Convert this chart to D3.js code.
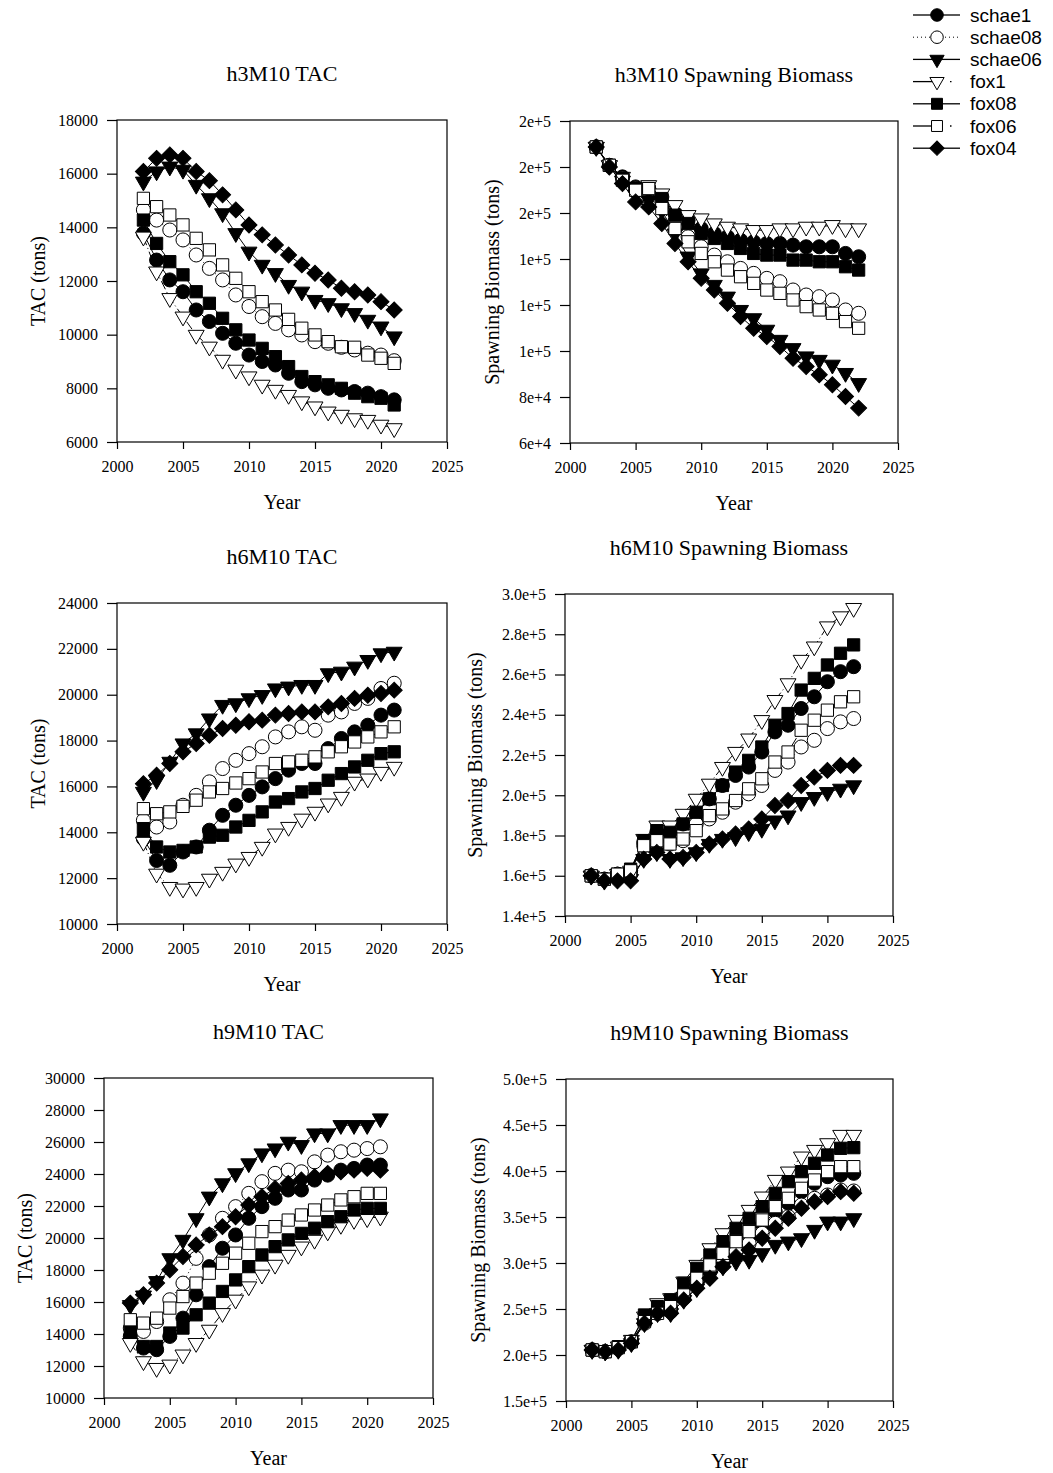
<!DOCTYPE html>
<html>
<head>
<meta charset="utf-8">
<script src="https://cdn.jsdelivr.net/npm/d3@7"></script>
<style>
  body { margin: 0; background: #fff; }
  svg text { font-family: "Liberation Serif", "Times New Roman", serif; fill: #000; }
</style>
</head>
<body>
<script>
// series, in legend order
const seriesNames = ['schae1', 'schae08', 'schae06', 'fox1', 'fox08', 'fox06', 'fox04']

const tacYears = [2002, 2003, 2004, 2005, 2006, 2007, 2008, 2009, 2010, 2011, 2012, 2013, 2014, 2015, 2016, 2017, 2018, 2019, 2020, 2021]
const sbYears = [2002, 2003, 2004, 2005, 2006, 2007, 2008, 2009, 2010, 2011, 2012, 2013, 2014, 2015, 2016, 2017, 2018, 2019, 2020, 2021, 2022]
const xTicks = [2000, 2005, 2010, 2015, 2020, 2025]

// h3M10 TAC (tons), rows follow seriesNames
const h3Tac = [
  [13780, 12780, 12040, 11600, 10920, 10490, 10050, 9680, 9240, 9000, 8870, 8560, 8250, 8130, 8000, 7940, 7880, 7820, 7690, 7570],
  [14650, 14270, 13900, 13530, 12970, 12470, 12040, 11480, 11050, 10670, 10420, 10180, 9990, 9740, 9680, 9530, 9430, 9310, 9240, 9030],
  [15700, 16080, 16260, 16140, 15580, 15080, 14520, 13780, 13090, 12600, 12290, 11850, 11600, 11290, 11170, 10980, 10800, 10550, 10300, 9930],
  [13650, 12350, 11360, 10670, 9990, 9550, 9060, 8690, 8440, 8130, 7940, 7750, 7510, 7320, 7130, 7010, 6880, 6820, 6640, 6510],
  [14270, 13400, 12720, 12230, 11600, 11170, 10610, 10180, 9800, 9490, 9180, 8810, 8440, 8250, 8130, 8000, 7820, 7690, 7630, 7380],
  [15080, 14770, 14460, 14090, 13590, 13160, 12600, 12100, 11600, 11230, 10920, 10570, 10240, 9990, 9740, 9550, 9530, 9240, 9120, 8930],
  [16080, 16570, 16700, 16570, 16080, 15740, 15210, 14650, 14090, 13720, 13340, 12970, 12600, 12290, 12040, 11730, 11600, 11480, 11230, 10920]
]

// h3M10 spawning biomass (tons)
const h3Sb = [
  [188700, 180700, 175700, 171340, 170620, 167000, 159770, 156880, 153270, 151100, 149650, 148200, 147480, 146760, 146760, 146040, 145310, 145310, 145310, 142420, 140970],
  [188700, 180740, 174960, 170620, 170620, 164830, 156160, 149650, 145310, 141700, 138800, 135910, 133750, 131580, 130130, 126520, 124350, 123620, 122180, 117840, 116390],
  [188700, 180700, 174000, 168000, 165500, 161000, 151000, 141000, 133700, 128700, 123600, 117800, 114200, 109200, 104800, 101200, 97600, 96100, 94000, 90400, 86000],
  [188700, 180740, 175680, 171340, 172060, 168450, 163390, 159050, 157600, 155430, 153990, 153270, 152540, 152540, 153270, 153270, 153990, 153990, 154710, 153270, 153270],
  [188700, 180740, 174960, 170620, 170620, 166280, 159050, 155430, 151100, 148930, 146760, 144590, 142420, 141700, 141700, 139530, 139530, 138800, 138800, 136640, 135190],
  [188700, 180740, 174230, 169890, 170620, 161940, 153270, 147480, 142420, 138800, 135190, 132300, 129410, 126510, 125070, 122180, 119290, 117840, 116390, 112780, 109890],
  [188700, 180020, 172790, 164830, 162660, 155430, 146760, 138810, 131580, 126510, 120730, 114950, 109890, 106270, 101930, 96870, 93260, 89640, 85300, 80240, 75180]
]

// h6M10 TAC (tons)
const h6Tac = [
  [13720, 12770, 12560, 13140, 13360, 14090, 14740, 15180, 15610, 15980, 16340, 16710, 17000, 17000, 17650, 18090, 18380, 18670, 19110, 19330],
  [14520, 14230, 14450, 15180, 15610, 16200, 16780, 17140, 17430, 17730, 18160, 18380, 18600, 18450, 19110, 19250, 19620, 19840, 20270, 20500],
  [15760, 16270, 17070, 17870, 18310, 18960, 19550, 19620, 19840, 19980, 20270, 20350, 20420, 20420, 20930, 21000, 21220, 21510, 21800, 21870],
  [13580, 12190, 11610, 11540, 11610, 11970, 12270, 12630, 12920, 13360, 13940, 14230, 14590, 14890, 15250, 15540, 16200, 16340, 16630, 16850],
  [14160, 13360, 13140, 13210, 13360, 13790, 13870, 14230, 14520, 14890, 15320, 15470, 15760, 15910, 16270, 16560, 16850, 17140, 17430, 17510],
  [15030, 14810, 14890, 15130, 15400, 15760, 15910, 16150, 16340, 16630, 17000, 17070, 17140, 17290, 17510, 17730, 17940, 18160, 18380, 18600],
  [16120, 16490, 17000, 17510, 17870, 18230, 18530, 18670, 18820, 18890, 19110, 19180, 19250, 19250, 19470, 19620, 19840, 19980, 20050, 20200]
]

// h6M10 spawning biomass (tons)
const h6Sb = [
  [159960, 158300, 160790, 162450, 176590, 181580, 181580, 185740, 190730, 198210, 204860, 209850, 214010, 221490, 231470, 234790, 243110, 248930, 256410, 261400, 263890],
  [159960, 158300, 160790, 162450, 174920, 176590, 175760, 177420, 185740, 188230, 191560, 196550, 200700, 204860, 212350, 216500, 223990, 227310, 233130, 236460, 238120],
  [159960, 157460, 158300, 158300, 168270, 171600, 168270, 169110, 171600, 175760, 178250, 179090, 181580, 183240, 187400, 189890, 196550, 199060, 201530, 203190, 204860],
  [159960, 158300, 160790, 162450, 178250, 184900, 184900, 190720, 198210, 205690, 214010, 221490, 228140, 237290, 247270, 255580, 267220, 273870, 283850, 288840, 293000],
  [159960, 158300, 160790, 163280, 177420, 182410, 181580, 185740, 191560, 198210, 204860, 211510, 217330, 223980, 234790, 240610, 252260, 258080, 264730, 270550, 274710],
  [159960, 158300, 160790, 162450, 174920, 177420, 175760, 178250, 182410, 189890, 193220, 197380, 203200, 208190, 216500, 221490, 232300, 237290, 242280, 246430, 248930],
  [159960, 157460, 157460, 157460, 168270, 171600, 168270, 169110, 171600, 175760, 178250, 180750, 183240, 188230, 194880, 197380, 204860, 209020, 212340, 214840, 214840]
]

// h9M10 TAC (tons)
const h9Tac = [
  [13850, 13120, 13020, 13850, 14990, 16450, 18210, 19360, 20190, 21230, 21960, 22480, 23000, 23000, 23620, 23930, 24240, 24350, 24560, 24560],
  [14370, 14160, 14780, 16140, 17180, 18730, 20190, 21230, 21960, 22790, 23520, 24040, 24240, 24140, 24760, 25180, 25390, 25490, 25590, 25700],
  [15800, 16400, 17300, 18730, 19880, 21230, 22580, 23410, 24040, 24660, 25280, 25590, 26010, 25800, 26530, 26530, 27050, 27050, 27050, 27470],
  [13430, 12290, 11870, 12080, 12710, 13430, 14260, 15300, 16140, 16970, 17700, 18320, 18940, 19460, 19880, 20400, 20810, 21120, 21230, 21330],
  [14160, 13220, 13220, 14060, 14370, 15200, 15930, 16660, 17380, 18210, 18940, 19460, 19880, 20290, 20610, 21020, 21330, 21750, 21850, 21850],
  [14890, 14680, 14990, 15620, 16340, 17180, 17800, 18420, 19050, 19670, 20400, 20710, 21120, 21440, 21750, 22060, 22380, 22580, 22790, 22790],
  [15930, 16450, 17180, 18010, 18840, 19570, 20190, 20710, 21330, 22060, 22580, 23100, 23410, 23620, 23830, 24040, 24140, 24240, 24350, 24240]
]

// h9M10 spawning biomass (tons)
const h9Sb = [
  [205450, 203640, 207990, 214510, 236250, 245300, 250740, 263420, 281530, 296020, 306890, 319570, 328630, 341310, 355800, 364860, 377540, 386600, 393840, 395660, 397470],
  [205450, 203640, 207260, 213780, 234430, 245300, 247120, 261610, 279720, 292410, 301470, 312330, 321390, 332260, 343130, 350370, 363050, 370300, 373920, 379360, 378270],
  [205450, 203640, 205450, 212700, 234430, 245300, 245300, 259800, 272480, 285160, 296030, 301460, 303260, 310510, 319570, 323190, 326810, 335870, 344930, 344930, 348550],
  [205450, 203640, 209070, 216320, 241680, 256170, 261610, 279720, 297840, 315950, 332260, 346750, 357620, 372110, 390230, 399280, 415590, 422830, 430080, 439140, 439140],
  [205450, 203640, 209070, 214510, 243490, 252550, 259800, 277910, 294220, 308710, 323200, 337700, 348570, 361250, 375740, 388420, 399290, 408350, 417400, 424650, 425370],
  [205450, 203640, 207990, 214510, 236250, 245300, 252550, 265230, 283350, 297840, 310520, 323200, 334070, 346750, 361240, 370300, 381170, 390230, 399280, 404720, 404720],
  [205450, 203640, 205450, 212700, 234430, 245300, 245300, 259800, 272480, 283350, 296030, 306900, 314140, 326820, 337690, 348560, 359430, 366680, 372110, 377540, 375730]
]

// marker and line look per series
const shapes = [
  { type: d3.symbolCircle, fill: '#000', rot: 0, size: 155, dash: null },
  { type: d3.symbolCircle, fill: '#fff', rot: 0, size: 155, dash: '1,3' },
  { type: d3.symbolTriangle, fill: '#000', rot: 180, size: 110, dash: null },
  { type: d3.symbolTriangle, fill: '#fff', rot: 180, size: 110, dash: '9,3,1,3' },
  { type: d3.symbolSquare, fill: '#000', rot: 0, size: 150, dash: null },
  { type: d3.symbolSquare, fill: '#fff', rot: 0, size: 150, dash: '9,3,1,3' },
  { type: d3.symbolSquare, fill: '#000', rot: 45, size: 128, dash: null }
]

const fmtInt = d3.format('d')
const fmtE0 = d3.format('.0e')
const fmtE1 = d3.format('.1e')

const panels = [
  { title: 'h3M10 TAC', ylab: 'TAC (tons)', data: h3Tac, years: tacYears, yDom: [6000, 18000], yStep: 2000, fmt: fmtInt, box: [117, 447, 120, 442], labOff: 79 },
  { title: 'h3M10 Spawning Biomass', ylab: 'Spawning Biomass (tons)', data: h3Sb, years: sbYears, yDom: [60000, 200000], yStep: 20000, fmt: fmtE0, box: [570, 898, 121, 443], labOff: 78 },
  { title: 'h6M10 TAC', ylab: 'TAC (tons)', data: h6Tac, years: tacYears, yDom: [10000, 24000], yStep: 2000, fmt: fmtInt, box: [117, 447, 603, 924], labOff: 79 },
  { title: 'h6M10 Spawning Biomass', ylab: 'Spawning Biomass (tons)', data: h6Sb, years: sbYears, yDom: [140000, 300000], yStep: 20000, fmt: fmtE1, box: [565, 893, 594, 916], labOff: 90 },
  { title: 'h9M10 TAC', ylab: 'TAC (tons)', data: h9Tac, years: tacYears, yDom: [10000, 30000], yStep: 2000, fmt: fmtInt, box: [104, 433, 1078, 1398], labOff: 79 },
  { title: 'h9M10 Spawning Biomass', ylab: 'Spawning Biomass (tons)', data: h9Sb, years: sbYears, yDom: [150000, 500000], yStep: 50000, fmt: fmtE1, box: [566, 893, 1079, 1401], labOff: 88 }
]

const svg = d3.select('body').append('svg')
  .attr('width', 1053)
  .attr('height', 1473)

panels.forEach(p => {
  const [x0, x1, y0, y1] = p.box
  const x = d3.scaleLinear().domain([2000, 2025]).range([x0, x1])
  const y = d3.scaleLinear().domain(p.yDom).range([y1, y0])
  const g = svg.append('g')

  const yTicks = d3.range(p.yDom[0], p.yDom[1] + p.yStep / 2, p.yStep)

  const ax = g.append('g')
    .attr('transform', 'translate(' + x0 + ',0)')
    .call(d3.axisLeft(y).tickValues(yTicks).tickFormat(p.fmt).tickSize(10).tickPadding(9))
  const bx = g.append('g')
    .attr('transform', 'translate(0,' + y1 + ')')
    .call(d3.axisBottom(x).tickValues(xTicks).tickFormat(fmtInt).tickSize(7).tickPadding(12))
  for (const a of [ax, bx]) {
    a.attr('font-size', 16).attr('font-family', null)
    a.select('.domain').remove()
    a.selectAll('line').attr('stroke', '#000').attr('stroke-width', 1.2)
  }

  g.append('rect')
    .attr('x', x0).attr('y', y0)
    .attr('width', x1 - x0).attr('height', y1 - y0)
    .attr('fill', 'none').attr('stroke', '#000').attr('stroke-width', 1.2)

  g.append('text')
    .attr('x', (x0 + x1) / 2).attr('y', y0 - 39)
    .attr('text-anchor', 'middle').attr('font-size', 22)
    .text(p.title)
  g.append('text')
    .attr('x', (x0 + x1) / 2).attr('y', y1 + 67)
    .attr('text-anchor', 'middle').attr('font-size', 20)
    .text('Year')
  g.append('text')
    .attr('transform', 'translate(' + (x0 - p.labOff) + ',' + ((y0 + y1) / 2) + ') rotate(-90)')
    .attr('dy', '0.35em')
    .attr('text-anchor', 'middle').attr('font-size', 20)
    .text(p.ylab)

  p.data.forEach((vals, i) => {
    const s = shapes[i]
    const pts = vals.map((v, k) => [p.years[k], v])
    g.append('path')
      .datum(pts)
      .attr('fill', 'none').attr('stroke', '#000').attr('stroke-width', 1)
      .attr('stroke-dasharray', s.dash)
      .attr('d', d3.line().x(d => x(d[0])).y(d => y(d[1])))
    g.selectAll(null)
      .data(pts)
      .join('path')
      .attr('transform', d => 'translate(' + x(d[0]) + ',' + y(d[1]) + ') rotate(' + s.rot + ')')
      .attr('d', d3.symbol().type(s.type).size(s.size))
      .attr('fill', s.fill).attr('stroke', '#000').attr('stroke-width', 1)
  })
})

// legend, top right: left half of the sample line, marker, right half
const legend = svg.append('g')
seriesNames.forEach((name, i) => {
  const s = shapes[i]
  const ly = 15 + i * 22.2
  const dotted = s.dash === '1,3'
  const dashDot = s.dash && !dotted
  legend.append('line')
    .attr('x1', 913).attr('x2', 937).attr('y1', ly).attr('y2', ly)
    .attr('stroke', '#000').attr('stroke-width', dotted ? 1 : 1.3)
    .attr('stroke-dasharray', dotted ? '1,3' : null)
  legend.append('line')
    .attr('x1', 937).attr('x2', 960).attr('y1', ly).attr('y2', ly)
    .attr('stroke', '#000').attr('stroke-width', dotted ? 1 : 1.3)
    .attr('stroke-dasharray', dotted ? '1,3' : dashDot ? '0,13,1.5,20' : null)
  legend.append('path')
    .attr('transform', 'translate(937,' + ly + ') rotate(' + s.rot + ')')
    .attr('d', d3.symbol().type(s.type).size(s.size * 0.8))
    .attr('fill', s.fill).attr('stroke', '#000').attr('stroke-width', 1)
  legend.append('text')
    .attr('x', 970).attr('y', ly).attr('dy', '0.35em')
    .attr('font-size', 19)
    .style('font-family', '"Liberation Sans", Arial, sans-serif')
    .text(name)
})
</script>
</body>
</html>
